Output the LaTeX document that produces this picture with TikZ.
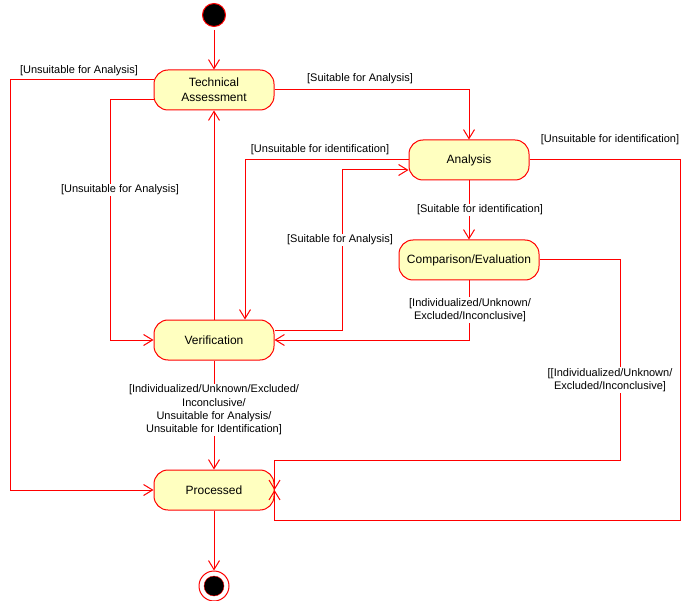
\documentclass[tikz,border=0pt]{standalone}
\usepackage{fontspec}
\setmainfont{Liberation Sans}
\usetikzlibrary{arrows.meta}
\definecolor{umlred}{RGB}{255,0,0}
\definecolor{umlfill}{RGB}{255,255,192}
\tikzset{% change default arrow tips
    >={Straight Barb[length=9pt,width=11pt]}
}

\begin{document}
\begin{tikzpicture}[x=1pt,y=-1pt,
    state/.style={draw=umlred,fill=umlfill,line width=1pt,rounded corners=14pt,
        minimum width=120pt,minimum height=40pt,inner sep=0pt,align=center,
        font=\fontsize{12}{15}\selectfont},
    flow/.style={->,draw=umlred,line width=1pt},
    guard/.style={font=\fontsize{11}{13.4}\selectfont,align=center,inner sep=1pt},
    onflow/.style={guard,fill=white}]
    \useasboundingbox (0,0) rectangle (690,601);

    % states
    \node[circle,fill=black,draw=umlred,line width=1pt,minimum size=23pt,inner sep=0pt] (start) at (214,15) {};
    \node[state] (ta) at (214,90) {Technical\\Assessment};
    \node[state] (an) at (469,160) {Analysis};
    \node[state,minimum width=140pt] (ce) at (469,260) {Comparison/Evaluation};
    \node[state] (ve) at (214,340) {Verification};
    \node[state] (pr) at (214,490) {Processed};
    \node[circle,draw=umlred,fill=white,line width=1pt,minimum size=30pt,inner sep=0pt] (stop) at (214,586) {};
    \node[circle,fill=black,draw=umlred,minimum size=20pt,inner sep=0pt] (stopdot) at (214,586) {};

    % bends
    \coordinate (c1) at (10,80);
    \coordinate (c2) at (110,100);
    \coordinate (c3) at (342,330);
    \coordinate (c4) at (620,460);
    \coordinate (c5) at (680,520);

    % transitions
    \draw[flow,shorten <=3pt] (start) -- (ta);
    \draw[flow] (ta.east) -| (an.north);
    \draw[flow] ([yshift=10pt]ta.west) -- (c1) |- (pr.west);
    \draw[flow] ([yshift=-10pt]ta.west) -- (c2) |- (ve.west);
    \draw[flow] (ve) -- (ta);
    \draw[flow] (an.west) -| ([xshift=31pt]ve.north);
    \draw[flow] ([yshift=10pt]ve.east) -- (c3) |- ([yshift=-10pt]an.west);
    \draw[flow] (an) -- (ce);
    \draw[flow] (ce.south) |- (ve.east);
    \draw[flow] (ce.east) -| (c4) -| (pr.east);
    \draw[flow] (an.east) -| (c5) -| (pr.east);
    \draw[flow] (ve) -- (pr);
    \draw[flow] (pr) -- (stop);

    % guards
    \node[guard] (g1) at (79,71) {[Unsuitable for Analysis]};
    \node[guard] (g2) at (360,79) {[Suitable for Analysis]};
    \node[onflow] (g3) at (120,190) {[Unsuitable for Analysis]};
    \node[guard] (g4) at (320,150) {[Unsuitable for identification]};
    \node[guard] (g5) at (610,140) {[Unsuitable for identification]};
    \node[onflow] (g6) at (480,210) {[Suitable for identification]};
    \node[onflow] (g7) at (340,240) {[Suitable for Analysis]};
    \node[onflow] (g8) at (470,310) {[Individualized/Unknown/\\Excluded/Inconclusive]};
    \node[onflow] (g9) at (214,410) {[Individualized/Unknown/Excluded/\\Inconclusive/\\Unsuitable for Analysis/\\Unsuitable for Identification]};
    \node[onflow] (g10) at (610,380) {[[Individualized/Unknown/\\Excluded/Inconclusive]};
\end{tikzpicture}
\end{document}
